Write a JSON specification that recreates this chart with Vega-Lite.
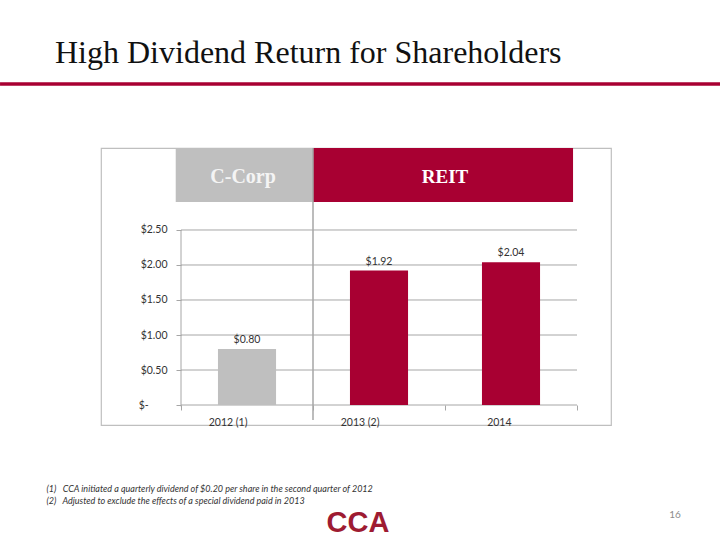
{
  "$schema": "https://vega.github.io/schema/vega-lite/v6.json",
  "width": 510,
  "height": 277,
  "autosize": {"type": "none"},
  "padding": {"left": 101, "top": 148, "right": 109, "bottom": 115},
  "background": "white",
  "config": {"view": {"stroke": "#bfbfbf", "strokeWidth": 1.2}},
  "title": {
    "text": "High Dividend Return for Shareholders",
    "anchor": "start",
    "frame": "group",
    "dx": -46,
    "offset": -13,
    "baseline": "alphabetic",
    "font": "Liberation Serif",
    "fontSize": 32,
    "fontWeight": "normal",
    "color": "#111111"
  },
  "datasets": {
    "bars": [
      {"year": "2012 (1)", "value": 0.80, "era": "C-Corp"},
      {"year": "2013 (2)", "value": 1.92, "era": "REIT"},
      {"year": "2014", "value": 2.04, "era": "REIT"}
    ],
    "headers": [
      {"era": "C-Corp", "from": "2012 (1)", "to": "2012 (1)"},
      {"era": "REIT", "from": "2013 (2)", "to": "2014"}
    ],
    "ticks": [{"v": 0}, {"v": 0.5}, {"v": 1}, {"v": 1.5}, {"v": 2}, {"v": 2.5}],
    "slide": [{"page": "16", "logo": "CCA"}]
  },
  "layer": [
    {
      "data": {"name": "headers"},
      "transform": [{"filter": "datum.era == 'C-Corp'"}],
      "mark": {"type": "rect"},
      "encoding": {
        "x": {"datum": "2012 (1)", "type": "nominal", "bandPosition": -0.04,
              "scale": {"type": "band", "domain": ["2012 (1)", "2013 (2)", "2014"], "paddingInner": 0, "paddingOuter": 0.4318, "align": 0.7018}},
        "x2": {"datum": "2012 (1)", "bandPosition": 1},
        "y": {"datum": 3.671, "type": "quantitative",
              "scale": {"domain": [-0.2857, 3.6714], "nice": false, "zero": false}},
        "y2": {"datum": 2.9},
        "color": {"field": "era", "type": "nominal", "legend": null,
                  "scale": {"domain": ["C-Corp", "REIT"], "range": ["#bfbfbf", "#a80032"]}}
      }
    },
    {
      "data": {"name": "headers"},
      "transform": [{"filter": "datum.era == 'REIT'"}],
      "mark": {"type": "rect"},
      "encoding": {
        "x": {"datum": "2013 (2)", "type": "nominal", "bandPosition": 0},
        "x2": {"datum": "2014", "bandPosition": 0.97},
        "y": {"datum": 3.671, "type": "quantitative"},
        "y2": {"datum": 2.9},
        "color": {"field": "era", "type": "nominal", "legend": null}
      }
    },
    {
      "data": {"name": "headers"},
      "transform": [{"filter": "datum.era == 'C-Corp'"}],
      "mark": {"type": "text", "font": "Liberation Serif", "fontWeight": "bold", "fontSize": 20, "color": "#f4f4f4", "baseline": "alphabetic", "align": "center"},
      "encoding": {
        "x": {"datum": "2012 (1)", "type": "nominal", "bandPosition": 0.47},
        "y": {"datum": 3.171, "type": "quantitative"},
        "text": {"field": "era"}
      }
    },
    {
      "data": {"name": "headers"},
      "transform": [{"filter": "datum.era == 'REIT'"}],
      "mark": {"type": "text", "font": "Liberation Serif", "fontWeight": "bold", "fontSize": 19, "color": "#ffffff", "baseline": "alphabetic", "align": "center"},
      "encoding": {
        "x": {"datum": "2014", "type": "nominal", "bandPosition": 0},
        "y": {"datum": 3.171, "type": "quantitative"},
        "text": {"field": "era"}
      }
    },
    {
      "data": {"name": "ticks"},
      "mark": {"type": "rule", "color": "#a6a6a6", "strokeWidth": 1},
      "encoding": {
        "x": {"datum": "2012 (1)", "type": "nominal", "bandPosition": 0},
        "x2": {"datum": "2014", "bandPosition": 1},
        "y": {"field": "v", "type": "quantitative"}
      }
    },
    {
      "data": {"name": "slide"},
      "mark": {"type": "rule", "color": "#a6a6a6", "strokeWidth": 1},
      "encoding": {
        "x": {"datum": "2012 (1)", "type": "nominal", "bandPosition": 0},
        "y": {"datum": -0.02, "type": "quantitative"},
        "y2": {"datum": 2.5}
      }
    },
    {
      "data": {"name": "slide"},
      "mark": {"type": "rule", "color": "#a6a6a6", "strokeWidth": 1.5},
      "encoding": {
        "x": {"datum": "2013 (2)", "type": "nominal", "bandPosition": 0},
        "y": {"datum": 3.671, "type": "quantitative"},
        "y2": {"datum": -0.214}
      }
    },
    {
      "data": {"name": "bars"},
      "mark": {"type": "bar", "width": {"band": 0.44}},
      "encoding": {
        "x": {"field": "year", "type": "nominal", "sort": null,
              "axis": {
                "orient": "bottom", "offset": -20, "domain": false, "grid": false,
                "tickBand": "extent", "ticks": true, "tickSize": 5, "tickColor": "#a6a6a6",
                "labelAngle": 0, "labelFont": "Lato", "labelFontSize": 10.5, "labelColor": "#333333", "labelPadding": 12,
                "title": ["(1)\u00a0\u00a0\u00a0CCA initiated a quarterly dividend of $0.20 per share in the second quarter of 2012", "(2)\u00a0\u00a0\u00a0Adjusted to exclude the effects of a special dividend paid in 2013"],
                "titleX": -55, "titleY": 86, "titleAlign": "left", "titleAnchor": "start", "titleBaseline": "alphabetic",
                "titleFont": "Lato", "titleFontStyle": "italic", "titleFontWeight": "normal", "titleFontSize": 9, "titleColor": "#333333", "titleLineHeight": 12
              }},
        "y": {"field": "value", "type": "quantitative",
              "axis": {
                "orient": "left", "offset": -80, "domain": false, "grid": false,
                "values": [0, 0.5, 1, 1.5, 2, 2.5], "tickSize": 5, "tickColor": "#a6a6a6",
                "labelExpr": "datum.value == 0 ? '$-\u00a0\u00a0\u00a0\u00a0\u00a0\u00a0\u00a0\u200b' : '$' + format(datum.value, '.2f')",
                "labelFont": "Lato", "labelFontSize": 10.5, "labelColor": "#333333", "labelPadding": 9,
                "title": null
              }},
        "y2": {"datum": 0},
        "color": {"field": "era", "type": "nominal", "legend": null}
      }
    },
    {
      "data": {"name": "bars"},
      "mark": {"type": "text", "font": "Lato", "fontSize": 10.5, "color": "#333333", "baseline": "alphabetic", "dy": -6},
      "encoding": {
        "x": {"field": "year", "type": "nominal"},
        "y": {"field": "value", "type": "quantitative"},
        "text": {"field": "value", "type": "quantitative", "format": "$.2f"}
      }
    },
    {
      "data": {"name": "slide"},
      "mark": {"type": "rule", "color": "#a80032", "strokeWidth": 3.5},
      "encoding": {
        "x": {"datum": "2012 (1)", "type": "nominal", "bandPosition": -1.371},
        "x2": {"datum": "2014", "bandPosition": 2.091},
        "y": {"datum": 4.586, "type": "quantitative"}
      }
    },
    {
      "data": {"name": "slide"},
      "mark": {"type": "text", "font": "Lato", "fontSize": 10, "color": "#8c8c8c", "baseline": "middle", "align": "center"},
      "encoding": {
        "x": {"datum": "2014", "type": "nominal", "bandPosition": 1.742},
        "y": {"datum": -1.571, "type": "quantitative"},
        "text": {"field": "page"}
      }
    },
    {
      "data": {"name": "slide"},
      "mark": {"type": "text", "font": "Liberation Sans", "fontWeight": "bold", "fontSize": 29, "color": "#9e1b32", "baseline": "alphabetic", "align": "center"},
      "encoding": {
        "x": {"datum": "2013 (2)", "type": "nominal", "bandPosition": 0.341},
        "y": {"datum": -1.814, "type": "quantitative"},
        "text": {"field": "logo"}
      }
    }
  ]
}
